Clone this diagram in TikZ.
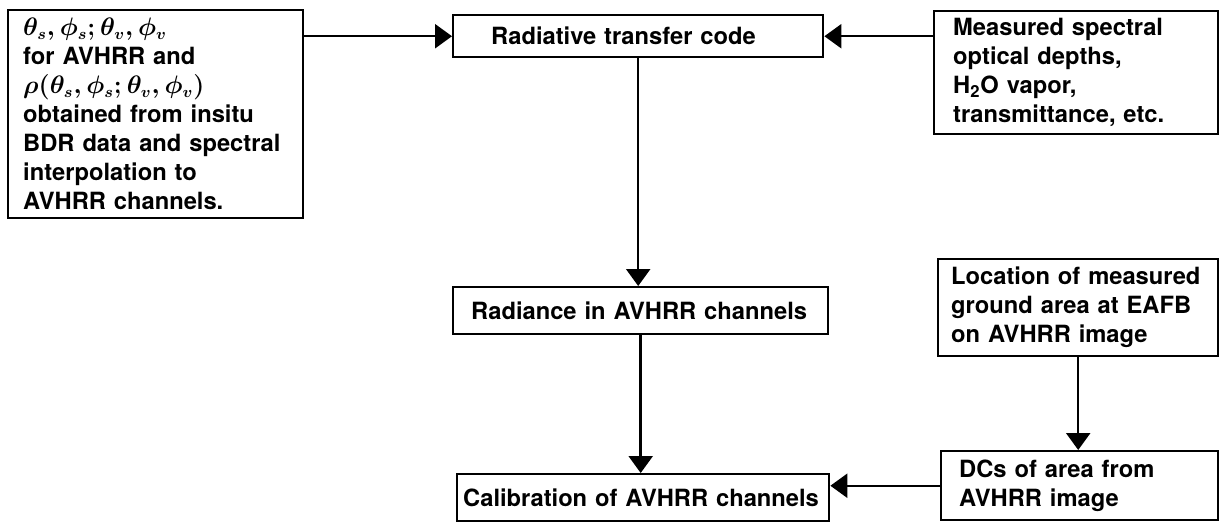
\documentclass[tikz,border=0pt]{standalone}
\usepackage{fontspec}
\setmainfont{TeX Gyre Heros}
\usetikzlibrary{arrows.meta}
\usetikzlibrary{positioning}
\usetikzlibrary{calc}
\tikzstyle{box} = [draw,line width=1.4pt,anchor=north west,inner ysep=0pt,font=\fontsize{13.5}{16.5}\selectfont\bfseries\boldmath]
\tikzstyle{textbox} = [box,align=left]
\tikzstyle{edge} = [draw,line width=1.4pt,-{Triangle[width=0.48cm,length=0.34cm]}]

\begin{document}
\begin{tikzpicture}[x=0.02cm,y=-0.02cm]
    \useasboundingbox (0,0) rectangle (1220,522);

    \foreach \pos/\name/\txtw/\pad/\boxh/\label in {{(452,14)/rtc/5.88cm/0.76cm/0.84cm/Radiative transfer code}, {(452,286)/rad/6.78cm/0.36cm/0.94cm/Radiance in AVHRR channels}, {(456,473)/calib/7.2cm/0.12cm/0.94cm/Calibration of AVHRR channels}}
        \node[textbox,text width=\txtw,inner xsep=\pad,minimum height=\boxh] (\name) at \pos {\label};

    \node[textbox,text width=5.3cm,inner xsep=0.3cm,minimum height=4.16cm] (angles) at (7,9)
        {$\theta_s,\phi_s;\theta_v,\phi_v$\\ for AVHRR and\\ $\rho(\theta_s,\phi_s;\theta_v,\phi_v)$\\ obtained from insitu\\ BDR data and spectral\\ interpolation to\\ AVHRR channels.};
    \node[textbox,text width=4.92cm,inner xsep=0.38cm,minimum height=2.46cm] (depths) at (933,10)
        {Measured spectral\\ optical depths,\\ H\textsubscript{2}O vapor,\\ transmittance, etc.};
    \node[textbox,text width=5.08cm,inner xsep=0.26cm,minimum height=1.94cm] (loc) at (937,258)
        {Location of measured\\ ground area at EAFB\\ on AVHRR image};
    \node[textbox,text width=4.82cm,inner xsep=0.36cm,minimum height=1.38cm] (dcs) at (940,450)
        {DCs of area from\\ AVHRR image};

    \path[edge] (angles.north east |- rtc.west) -- (rtc.west);
    \path[edge] (depths.west |- rtc.east) -- (rtc.east);
    \path[edge] (rtc.south) -- (rtc.south |- rad.north);
    \path[edge] (rad.south) -- (rad.south |- calib.north);
    \path[edge] (loc.south) -- (loc.south |- dcs.north);
    \path[edge] (dcs.west) -- (dcs.west -| calib.east);
\end{tikzpicture}
\end{document}
